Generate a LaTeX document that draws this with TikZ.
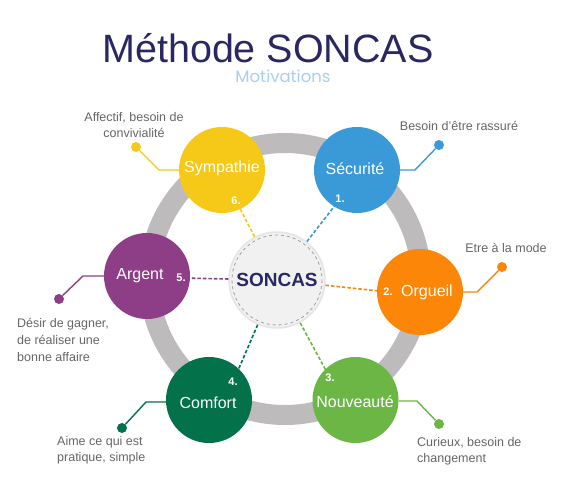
\documentclass[tikz,border=0pt]{standalone}
\usepackage{fontspec}
\setmainfont{Liberation Sans}
\newfontfamily\subfont{Poppins}
\usetikzlibrary{calc}
\definecolor{navy}{HTML}{2A2862}
\definecolor{subblue}{HTML}{A9CFEF}
\definecolor{ringg}{HTML}{BDBBBC}
\definecolor{cy}{HTML}{F6C918}
\definecolor{cb}{HTML}{3A9AD8}
\definecolor{co}{HTML}{FB8608}
\definecolor{cg}{HTML}{6CB645}
\definecolor{cdg}{HTML}{03714A}
\definecolor{cp}{HTML}{8E3E86}
\definecolor{txtg}{HTML}{666666}
\definecolor{cfill}{HTML}{F1F1F2}
\definecolor{cedge}{HTML}{E4E4E4}
\begin{document}
\begin{tikzpicture}[x=1pt,y=-1pt,
  bub/.style={circle, fill=#1, minimum size=86pt, inner sep=0pt},
  lbl/.style={text=white, font=\fontsize{16}{16}\selectfont, inner sep=0pt},
  num/.style={text=white, font=\bfseries\fontsize{11}{11}\selectfont, inner sep=1pt},
  dashc/.style={draw=#1, dash pattern=on 3.5pt off 2pt, line width=1.6pt},
  lead/.style={draw=#1, line width=1.4pt},
  dotn/.style={circle, fill=#1, minimum size=10pt, inner sep=0pt},
  desc/.style={text=txtg, font=\fontsize{12.5}{16.5}\selectfont, inner sep=0pt}
]
\useasboundingbox (0,0) rectangle (586,490);
\fill[white] (0,0) rectangle (586,490);
% title
\node[text=navy, font=\fontsize{39.5}{40}\selectfont, anchor=base, inner sep=0pt, text depth=0pt] (title) at (268,62) {Méthode SONCAS};
\node[text=subblue, font=\subfont\fontsize{16.5}{17}\selectfont, anchor=base, inner sep=0pt, text height=11.5pt] (subt) at (283,82) {Motivations};
% ring
\draw[ringg, line width=20pt] (285,279) circle (136);
% bubbles
\node[bub=cy] (sym) at (222,170) {};
\node[bub=cb] (sec) at (357,170) {};
\node[bub=co] (org) at (420,292) {};
\node[bub=cg] (nou) at (355.5,400) {};
\node[bub=cdg] (com) at (209,400) {};
\node[bub=cp] (arg) at (147,276) {};
% bubble labels
\node[lbl] (tsym) at (222,168) {Sympathie};
\node[lbl] (tsec) at (355,169) {Sécurité};
\node[lbl] (torg) at (427,292) {Orgueil};
\node[lbl] (targ) at (140,276) {Argent};
\node[lbl] (tcom) at (208,403) {Comfort};
\node[lbl] (tnou) at (355,402) {Nouveauté};
% numbers
\node[num] (n6) at (236,201) {6.};
\node[num] (n1) at (340,199) {1.};
\node[num] (n2) at (388,292) {2.};
\node[num] (n5) at (181,278) {5.};
\node[num] (n4) at (233,382) {4.};
\node[num] (n3) at (330,378) {3.};
% center
\node[circle, fill=cfill, draw=cedge, line width=1.5pt, minimum size=96pt, inner sep=0pt,
      text=navy, font=\bfseries\fontsize{19}{19}\selectfont] (c) at (277,280) {SONCAS};
\draw[gray!75, dashed, line width=0.8pt] (c.center) circle (45);
% dashed connectors
\draw[dashc=cy] (c) -- (n6);
\draw[dashc=cb] (c) -- (n1);
\draw[dashc=co] (c) -- (n2);
\draw[dashc=cp] (c) -- (n5);
\draw[dashc=cdg] (c) -- (n4);
\draw[dashc=cg] (c) -- (n3);
% dots and leaders
\node[dotn=cy] (dsym) at (136,147) {};
\coordinate (ksym) at (159,170);
\draw[lead=cy] (dsym) -- (ksym) -- (sym.west);
\node[dotn=cb] (dsec) at (439,145) {};
\coordinate (ksec) at (415,170);
\draw[lead=cb] (sec.east) -- (ksec) -- (dsec);
\node[dotn=co] (dorg) at (502,267) {};
\coordinate (korg) at (477,292);
\draw[lead=co] (org.east) -- (korg) -- (dorg);
\node[dotn=cp] (darg) at (59,299) {};
\coordinate (karg) at (83,276);
\draw[lead=cp] (arg.west) -- (karg) -- (darg);
\node[dotn=cdg] (dcom) at (122,428) {};
\coordinate (kcom) at (146,402);
\draw[lead=cdg] (dcom) -- (kcom) -- (kcom -| com.west);
\node[dotn=cg] (dnou) at (439,424) {};
\coordinate (knou) at (417,401);
\draw[lead=cg] (knou -| nou.east) -- (knou) -- (dnou);
% descriptions
\node[desc, align=center] (esym) at (134,125) {Affectif, besoin de\\convivialité};
\node[desc] (esec) at (459,126) {Besoin d'être rassuré};
\node[desc] (eorg) at (506,248) {Etre à la mode};
\node[desc, align=left, anchor=north west] (earg) at (17,318) {Désir de gagner,\\[0.5pt]de réaliser une\\[0.5pt]bonne affaire};
\node[desc, align=left, anchor=north west] (ecom) at (57,436) {Aime ce qui est\\pratique, simple};
\node[desc, align=left, anchor=north west] (enou) at (417,437) {Curieux, besoin de\\changement};
\end{tikzpicture}
\end{document}
